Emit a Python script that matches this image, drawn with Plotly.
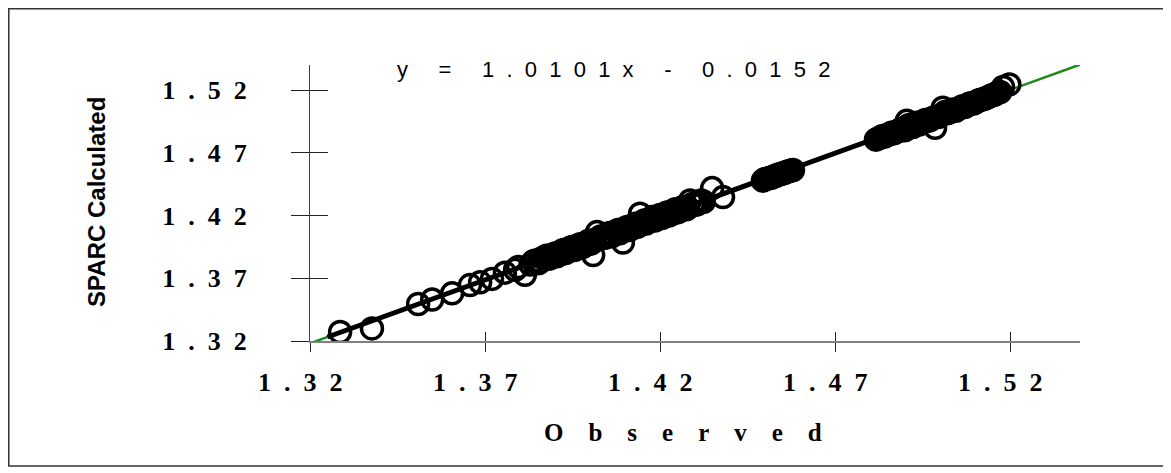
import plotly.graph_objects as go

# datos (Observed vs SPARC Calculated)
observed = [
    1.3286, 1.3377, 1.3509, 1.3549, 1.3606, 1.3657, 1.3686, 1.3720, 1.3757, 1.3786, 1.3814,
    1.3830, 1.3845, 1.3858, 1.3870, 1.3882, 1.3895, 1.3905, 1.3918, 1.3930, 1.3942, 1.3955,
    1.3965, 1.3978, 1.3990, 1.4000, 1.4009, 1.4015, 1.4020, 1.4038, 1.4050, 1.4062, 1.4075,
    1.4085, 1.4094, 1.4100, 1.4112, 1.4125, 1.4135, 1.4143, 1.4150, 1.4160, 1.4172, 1.4185,
    1.4195, 1.4205, 1.4215, 1.4225, 1.4238, 1.4250, 1.4262, 1.4275, 1.4286, 1.4300, 1.4312,
    1.4325, 1.4349, 1.4380,
    1.3795, 1.3838, 1.3852, 1.3864, 1.3876, 1.3888, 1.3900, 1.3912, 1.3924, 1.3936, 1.3948,
    1.3960, 1.3972, 1.3984, 1.3996, 1.4005, 1.4030, 1.4044, 1.4056, 1.4068, 1.4080, 1.4090,
    1.4106, 1.4118, 1.4130, 1.4140, 1.4155, 1.4166, 1.4178, 1.4190, 1.4200, 1.4210, 1.4220,
    1.4232, 1.4244, 1.4256, 1.4268, 1.4280, 1.4294, 1.4306, 1.4318,
    1.4494, 1.4505, 1.4518, 1.4530, 1.4542, 1.4555, 1.4568, 1.4580,
    1.4499, 1.4512, 1.4524, 1.4536, 1.4548, 1.4562, 1.4575,
    1.4817, 1.4830, 1.4842, 1.4855, 1.4868, 1.4880, 1.4893, 1.4905, 1.4915, 1.4928, 1.4940,
    1.4952, 1.4965, 1.4986, 1.4995, 1.5008, 1.5020, 1.5032, 1.5045, 1.5058, 1.5070, 1.5082,
    1.5095, 1.5108, 1.5120, 1.5135, 1.5150, 1.5165, 1.5180, 1.5198,
    1.4823, 1.4836, 1.4848, 1.4861, 1.4874, 1.4886, 1.4899, 1.4910, 1.4922, 1.4934, 1.4946,
    1.4958, 1.4972, 1.4980, 1.5002, 1.5014, 1.5026, 1.5038, 1.5051, 1.5064, 1.5076, 1.5088,
    1.5101, 1.5114, 1.5127, 1.5142, 1.5157, 1.5172,
]
calculated = [
    1.3272, 1.3300, 1.3495, 1.3530, 1.3580, 1.3646, 1.3668, 1.3695, 1.3745, 1.3768, 1.3728,
    1.3810, 1.3842, 1.3830, 1.3866, 1.3855, 1.3890, 1.3875, 1.3915, 1.3900, 1.3940, 1.3925,
    1.3962, 1.3948, 1.3985, 1.3975, 1.3885, 1.4010, 1.4068, 1.4020, 1.4048, 1.4035, 1.4072,
    1.4058, 1.3985, 1.4098, 1.4085, 1.4125, 1.4110, 1.4215, 1.4148, 1.4135, 1.4175, 1.4160,
    1.4195, 1.4180, 1.4215, 1.4200, 1.4240, 1.4225, 1.4262, 1.4250, 1.4320, 1.4285, 1.4300,
    1.4310, 1.4419, 1.4347,
    1.3790, 1.3835, 1.3820, 1.3862, 1.3880, 1.3862, 1.3898, 1.3888, 1.3925, 1.3912, 1.3950,
    1.3935, 1.3972, 1.3958, 1.4000, 1.3980, 1.4032, 1.4025, 1.4060, 1.4048, 1.4085, 1.4070,
    1.4108, 1.4095, 1.4135, 1.4120, 1.4160, 1.4150, 1.4188, 1.4170, 1.4205, 1.4190, 1.4225,
    1.4210, 1.4250, 1.4235, 1.4270, 1.4262, 1.4295, 1.4290, 1.4320,
    1.4478, 1.4492, 1.4500, 1.4515, 1.4528, 1.4538, 1.4552, 1.4563,
    1.4490, 1.4500, 1.4512, 1.4525, 1.4535, 1.4550, 1.4560,
    1.4805, 1.4822, 1.4830, 1.4848, 1.4855, 1.4872, 1.4890, 1.4955, 1.4905, 1.4935, 1.4925,
    1.4950, 1.4955, 1.4900, 1.4985, 1.5060, 1.5015, 1.5040, 1.5035, 1.5062, 1.5065, 1.5090,
    1.5092, 1.5115, 1.5125, 1.5140, 1.5160, 1.5180, 1.5225, 1.5245,
    1.4815, 1.4835, 1.4840, 1.4860, 1.4868, 1.4885, 1.4880, 1.4920, 1.4905, 1.4940, 1.4935,
    1.4962, 1.4960, 1.4980, 1.4998, 1.5025, 1.5020, 1.5045, 1.5048, 1.5072, 1.5075, 1.5095,
    1.5100, 1.5122, 1.5130, 1.5150, 1.5165, 1.5185,
]

# recta de ajuste y = 1.0101x - 0.0152
slope = 1.0101
intercept = -0.0152
fit_x = [1.32, 1.54]          # linea verde (todo el eje)
trend_x = [1.325, 1.521]      # linea negra sobre los datos

tick_vals = [1.32, 1.37, 1.42, 1.47, 1.52]
tick_text = ["1.32", "1.37", "1.42", "1.47", "1.52"]
axis_range = [1.32, 1.54]

NB = "\u00a0"


def spaced(t):
    # "1.32" -> "1  .  3  2" (texto espaciado como en el original)
    return (NB * 2).join(t)


y_ticktext = ["<b>" + spaced(t) + "</b>" for t in tick_text]
x_ticktext = ["<b>" + spaced(t) + NB * 3 + "</b>" for t in tick_text]

eq_text = (NB * 2).join(c if c != " " else NB for c in "y = 1.0101x - 0.0152")

fig = go.Figure()
fig.add_trace(go.Scatter(
    x=fit_x, y=[slope * v + intercept for v in fit_x],
    mode="lines", line=dict(color="#1a8a1a", width=2.5),
    showlegend=False, hoverinfo="skip",
))
fig.add_trace(go.Scatter(
    x=trend_x, y=[slope * v + intercept for v in trend_x],
    mode="lines", line=dict(color="black", width=5),
    showlegend=False, hoverinfo="skip",
))
fig.add_trace(go.Scatter(
    x=observed, y=calculated, mode="markers",
    marker=dict(symbol="circle-open", size=21, color="black", line=dict(width=3.5, color="black")),
    showlegend=False,
))
# traza vacia para activar los ejes superpuestos (ticks cruzados)
fig.add_trace(go.Scatter(x=[None], y=[None], xaxis="x2", yaxis="y2",
                         showlegend=False, hoverinfo="skip"))

tick_font = dict(family="Liberation Serif", size=26, color="black")

fig.update_layout(
    width=1163, height=465,
    margin=dict(l=302, r=91, t=57, b=132),
    plot_bgcolor="white", paper_bgcolor="white",
    xaxis=dict(
        range=axis_range, tickvals=tick_vals, ticktext=x_ticktext,
        ticks="outside", ticklen=9, tickwidth=1, tickcolor="#222",
        showline=True, linecolor="#808080", linewidth=2,
        showgrid=False, zeroline=False, tickfont=tick_font, ticklabelstandoff=8,
    ),
    yaxis=dict(
        range=axis_range, tickvals=tick_vals, ticktext=y_ticktext,
        ticks="outside", ticklen=18, tickwidth=1, tickcolor="#222",
        showline=True, linecolor="#404040", linewidth=1,
        showgrid=False, zeroline=False, tickfont=tick_font, ticklabelstandoff=39,
    ),
    xaxis2=dict(
        range=axis_range, tickvals=tick_vals, overlaying="x", anchor="y2",
        ticks="inside", ticklen=9, tickwidth=1, tickcolor="#222",
        showticklabels=False, showline=False, showgrid=False, zeroline=False,
    ),
    yaxis2=dict(
        range=axis_range, tickvals=tick_vals, overlaying="y", anchor="x2",
        ticks="inside", ticklen=18, tickwidth=1, tickcolor="#222",
        showticklabels=False, showline=False, showgrid=False, zeroline=False,
    ),
    annotations=[
        dict(text=eq_text, x=0.11, y=0.982, xref="paper", yref="paper",
             xanchor="left", yanchor="middle", showarrow=False,
             font=dict(family="Liberation Sans", size=22, color="black")),
        dict(text="<b>" + (NB * 4).join("Observed") + "</b>", x=0.4844, y=-0.333,
             xref="paper", yref="paper", xanchor="center", yanchor="middle",
             showarrow=False, font=dict(family="Liberation Serif", size=25, color="black")),
        dict(text="<b>SPARC Calculated</b>", x=-0.2766, y=0.504, xref="paper", yref="paper",
             xanchor="center", yanchor="middle", textangle=-90, showarrow=False,
             font=dict(family="Liberation Sans", size=24, color="black")),
    ],
    shapes=[
        dict(type="rect", xref="paper", yref="paper",
             x0=-0.3912, x1=1.1091, y0=-0.4529, y1=1.2038,
             line=dict(color="#333", width=1.5), fillcolor="rgba(0,0,0,0)"),
    ],
)

fig.write_html("out.html")
